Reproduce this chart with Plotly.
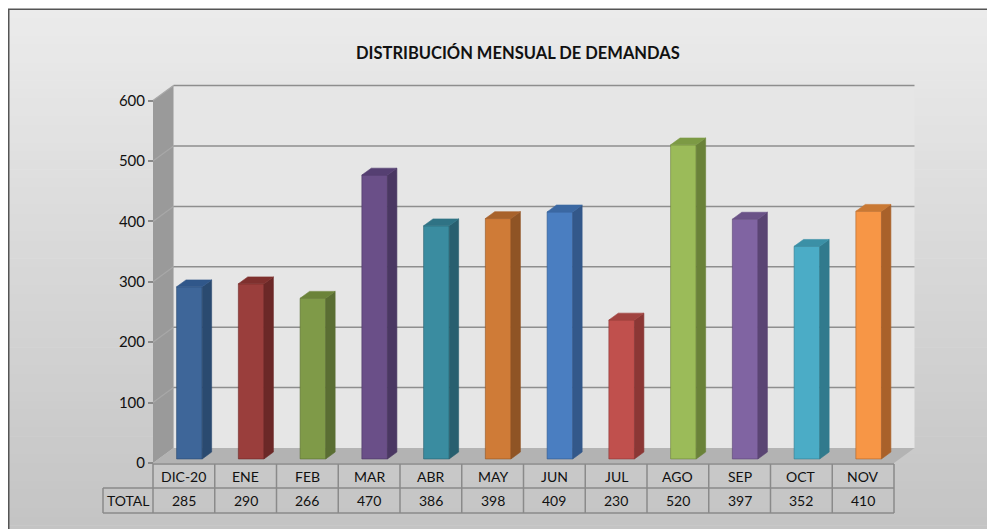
import plotly.graph_objects as go

# ---------------- data ----------------
months = ["DIC-20", "ENE", "FEB", "MAR", "ABR", "MAY", "JUN", "JUL", "AGO", "SEP", "OCT", "NOV"]
totals = [285, 290, 266, 470, 386, 398, 409, 230, 520, 397, 352, 410]
row_label = "TOTAL"
y_ticks = [0, 100, 200, 300, 400, 500, 600]
y_max_value = 600
title_text = "DISTRIBUCIÓN MENSUAL DE DEMANDAS"

front_colors = ["#3E6699", "#9A3E3C", "#7F9A48", "#6A4F88", "#3A8CA0", "#CF7B37",
                "#4A7EC1", "#C0504D", "#9BBB59", "#8064A2", "#4BACC6", "#F79646"]
side_colors = ["#2A4A70", "#6B2827", "#5A6E33", "#4A3762", "#285F6F", "#8F5425",
               "#33588A", "#8B3735", "#6A8239", "#5A4573", "#317A8D", "#A9612A"]
top_colors = ["#30578A", "#7F302E", "#6B8339", "#553F72", "#2F7385", "#A8622B",
              "#3B68A2", "#A14340", "#7C9A44", "#6A5287", "#3B90A6", "#C97934"]

# ---------------- geometry (page pixels -> figure / axis units) ----------------
OFF = 8                                  # page body margin around the figure
W, H = 995, 529
L, R, T, B = 90 - OFF, 930 - OFF, 70 - OFF, 520 - OFF   # plot area in figure pixels
X0_PX, CAT_PX = 153 - OFF, 61.75         # left front edge, pixels per category
Y0_PX, VAL_PX = 463 - OFF, 0.604         # front zero line, pixels per value unit
DX = 20.5 / CAT_PX                       # depth offset (x, axis units)
DY = 15.0 / VAL_PX                       # depth offset (y, axis units)
D1, D2 = 0.27, 0.73                      # bar front / back depth fraction
BAR_W = 0.415

x_min = -0.5 - (X0_PX - L) / CAT_PX
x_max = -0.5 + (R - X0_PX) / CAT_PX
y_max = (Y0_PX - T) / VAL_PX
y_min = (Y0_PX - B) / VAL_PX


def px_x(px):
    return (px - L) / (R - L)


def px_y(py):
    return (B - py) / (B - T)


FONT = "Lato, 'Open Sans', sans-serif"
shapes = []

# background gradient (paper)
n_bands = 60
top_rgb, bot_rgb = (235, 235, 235), (195, 195, 195)
y_start, y_end = 1, 535
for k in range(n_bands):
    t = k / (n_bands - 1)
    c = tuple(round(top_rgb[j] + (bot_rgb[j] - top_rgb[j]) * t) for j in range(3))
    ya = y_start + (y_end - y_start) * k / n_bands
    yb = y_start + (y_end - y_start) * (k + 1) / n_bands + 0.6
    shapes.append(dict(type="rect", xref="paper", yref="paper",
                       x0=px_x(0), x1=px_x(1010), y0=px_y(yb), y1=px_y(ya),
                       line=dict(width=0), fillcolor="rgb(%d,%d,%d)" % c, layer="below"))
# chart border
shapes.append(dict(type="rect", xref="paper", yref="paper",
                   x0=px_x(0.75), x1=px_x(1010), y0=px_y(540), y1=px_y(1.25),
                   line=dict(color="#555555", width=1.5), fillcolor="rgba(0,0,0,0)", layer="below"))

n = len(months)
xl_wall, xr_wall = -0.5, n - 0.5

# back wall
shapes.append(dict(type="rect", xref="x", yref="y", x0=xl_wall + DX, x1=xr_wall + DX,
                   y0=DY, y1=y_max_value + DY, line=dict(width=0), fillcolor="#E6E6E6", layer="below"))
# left side wall
shapes.append(dict(type="path", xref="x", yref="y",
                   path="M %f %f L %f %f L %f %f L %f %f Z" % (
                       xl_wall, 0, xl_wall, y_max_value, xl_wall + DX, y_max_value + DY, xl_wall + DX, DY),
                   line=dict(width=0), fillcolor="#9A9A9A", layer="below"))
# floor
shapes.append(dict(type="path", xref="x", yref="y",
                   path="M %f %f L %f %f L %f %f L %f %f Z" % (
                       xl_wall, 0, xr_wall, 0, xr_wall + DX, DY, xl_wall + DX, DY),
                   line=dict(width=0), fillcolor="#B3B3B3", layer="below"))
# gridlines (side wall diagonal + back wall)
for v in y_ticks:
    if v > 0:
        shapes.append(dict(type="line", xref="x", yref="y", x0=xl_wall, y0=v, x1=xl_wall + DX, y1=v + DY,
                           line=dict(color="#A8A8A8", width=1.2), layer="below"))
        shapes.append(dict(type="line", xref="x", yref="y", x0=xl_wall + DX, y0=v + DY, x1=xr_wall + DX, y1=v + DY,
                           line=dict(color="#8E8E8E", width=1.5), layer="below"))

# data table grid
row1_top, row_mid, row2_bot = -1.0 / VAL_PX, -25.0 / VAL_PX, -50.0 / VAL_PX
lab_left = -0.5 - 50.0 / CAT_PX
tcol = "#8A8A8A"
shapes.append(dict(type="line", xref="x", yref="y", x0=xl_wall, x1=xr_wall, y0=row1_top, y1=row1_top,
                   line=dict(color=tcol, width=1.5)))
for yy in (row_mid, row2_bot):
    shapes.append(dict(type="line", xref="x", yref="y", x0=lab_left, x1=xr_wall, y0=yy, y1=yy,
                       line=dict(color=tcol, width=1.5)))
for i in range(n + 1):
    shapes.append(dict(type="line", xref="x", yref="y", x0=i - 0.5, x1=i - 0.5, y0=row1_top, y1=row2_bot,
                       line=dict(color=tcol, width=1.5)))
shapes.append(dict(type="line", xref="x", yref="y", x0=lab_left, x1=lab_left, y0=row_mid, y1=row2_bot,
                   line=dict(color=tcol, width=1.5)))

annotations = []
for i, (m, v) in enumerate(zip(months, totals)):
    annotations.append(dict(x=i, y=(row1_top + row_mid) / 2, xref="x", yref="y", text=m, showarrow=False,
                            font=dict(family=FONT, size=14, color="#111111")))
    annotations.append(dict(x=i, y=(row_mid + row2_bot) / 2, xref="x", yref="y", text=str(v), showarrow=False,
                            font=dict(family=FONT, size=14, color="#111111")))
annotations.append(dict(x=(lab_left + xl_wall) / 2, y=(row_mid + row2_bot) / 2, xref="x", yref="y",
                        text=row_label, showarrow=False, font=dict(family=FONT, size=14, color="#111111")))
annotations.append(dict(x=px_x(518 - OFF), y=px_y(41 - OFF), xref="paper", yref="paper",
                        text="<b>%s</b>" % title_text,
                        showarrow=False, font=dict(family=FONT, size=16.5, color="#111111")))

fig = go.Figure()

# 3D bars: side and top faces as filled polygons, front faces as bars
base = D1 * DY
ddx, ddy = (D2 - D1) * DX, (D2 - D1) * DY
for i, v in enumerate(totals):
    xc = i + D1 * DX
    xl, xr = xc - BAR_W / 2, xc + BAR_W / 2
    fig.add_trace(go.Scatter(
        x=[xr, xr, xr + ddx, xr + ddx, xr], y=[base, base + v, base + v + ddy, base + ddy, base],
        mode="lines", fill="toself", fillcolor=side_colors[i], line=dict(color=side_colors[i], width=0.6),
        hoverinfo="skip", showlegend=False))
    fig.add_trace(go.Scatter(
        x=[xl, xr, xr + ddx, xl + ddx, xl], y=[base + v, base + v, base + v + ddy, base + v + ddy, base + v],
        mode="lines", fill="toself", fillcolor=top_colors[i], line=dict(color=top_colors[i], width=0.6),
        hoverinfo="skip", showlegend=False))

fig.add_trace(go.Bar(
    x=[i + D1 * DX for i in range(n)], y=totals, base=base, width=BAR_W,
    marker=dict(color=front_colors, line=dict(color=side_colors, width=0.6)),
    showlegend=False, hovertext=months, hoverinfo="text+y"))

fig.update_layout(
    width=W, height=H,
    margin=dict(l=L, r=W - R, t=T, b=H - B, pad=0),
    paper_bgcolor="white", plot_bgcolor="rgba(0,0,0,0)",
    barmode="overlay",
    shapes=shapes, annotations=annotations,
    xaxis=dict(range=[x_min, x_max], showgrid=False, zeroline=False, showticklabels=False,
               showline=False, fixedrange=True),
    yaxis=dict(range=[y_min, y_max], anchor="free", position=px_x(X0_PX),
               tickvals=y_ticks, ticktext=[str(t) for t in y_ticks],
               ticks="outside", ticklen=5, tickcolor="#8A8A8A", tickwidth=1.5,
               showgrid=False, zeroline=False, showline=False,
               tickfont=dict(family=FONT, size=15, color="#111111"), fixedrange=True),
    font=dict(family=FONT),
)

fig.write_html("out.html")
